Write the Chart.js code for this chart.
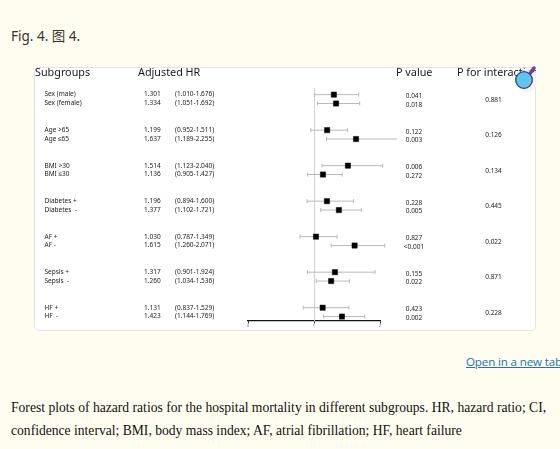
<!DOCTYPE html>
<html>
<head>
<meta charset="utf-8">
<script src="https://cdn.jsdelivr.net/npm/chart.js@4/dist/chart.umd.min.js"></script>
<style>
  html, body { margin:0; padding:0; }
  body { width:560px; height:449px; overflow:hidden; position:relative; background:#fffdf0; }
  #title { position:absolute; left:11px; top:25px; font:13.5px 'Noto Sans','Noto Sans CJK SC',sans-serif; color:#333; white-space:nowrap; }
  #box { position:absolute; left:34px; top:67px; width:502px; height:264px; box-sizing:border-box; background:#fff; border:1px solid #e2e2e2; border-radius:5px; }
  #wrap { position:absolute; left:34px; top:67px; width:502px; height:264px; }
  #icon { position:absolute; left:505px; top:60px; width:31px; height:32px; overflow:hidden; }
  #open { position:absolute; left:466px; top:354px; font:11.6px 'Open Sans',sans-serif; letter-spacing:-0.15px; color:#2271b5; text-decoration:underline; white-space:nowrap; }
  #caption { position:absolute; left:11px; top:396px; font:13.6px 'Liberation Serif',serif; line-height:23px; color:#111; white-space:nowrap; }
</style>
</head>
<body>
<div id="title">Fig. 4. 图 4.</div>
<div id="box"></div>
<div id="wrap"><canvas id="c"></canvas></div>
<svg id="icon" width="31" height="32" viewBox="0 0 31 32">
  <circle cx="22" cy="21" r="11" fill="#f3f3f3"/>
  <line x1="24" y1="15" x2="29" y2="8" stroke="#7b3f90" stroke-width="3.5" stroke-linecap="round"/>
  <circle cx="19" cy="20" r="8.3" fill="#5cc6ee" stroke="#46357f" stroke-width="1.3"/>
</svg>
<div id="open">Open in a new tab</div>
<div id="caption">Forest plots of hazard ratios for the hospital mortality in different subgroups. HR, hazard ratio; CI,<br>confidence interval; BMI, body mass index; AF, atrial fibrillation; HF, heart failure</div>

<script>
// ---- data ----
const subgroups = ['Sex (male)','Sex (female)','Age >65','Age \u226465','BMI >30','BMI \u226430','Diabetes +','Diabetes  -','AF +','AF -','Sepsis +','Sepsis  -','HF +','HF  -'];
const hr      = [1.301,1.334,1.199,1.637,1.514,1.136,1.196,1.377,1.030,1.615,1.317,1.260,1.131,1.423];
const ciLow   = [1.010,1.051,0.952,1.189,1.123,0.905,0.894,1.102,0.787,1.260,0.901,1.034,0.837,1.144];
const ciHigh  = [1.676,1.692,1.511,2.255,2.040,1.427,1.600,1.721,1.349,2.071,1.924,1.536,1.529,1.769];
const pValues = ['0.041','0.018','0.122','0.003','0.006','0.272','0.228','0.005','0.827','<0.001','0.155','0.022','0.423','0.002'];
const pInteraction = ['0.881','0.126','0.134','0.445','0.022','0.871','0.228'];
const headers = ['Subgroups','Adjusted HR','P value','P for interaction'];
const xTicks = [0,1,2];
const refValue = 1;

// ---- layout helpers ----
const rowY = i => Math.floor(i/2)*4 + (i%2);
const groupY = g => g*4 + 0.5;

const whiskers = subgroups.map((s,i) => ({
  type:'line',
  data:[{x:ciLow[i], y:rowY(i)}, {x:ciHigh[i], y:rowY(i)}],
  borderColor:'#b8b8b8', borderWidth:1,
  pointStyle:'line', rotation:90, pointRadius:2,
  pointBorderColor:'#b8b8b8', pointBorderWidth:1,
  clip:false, order:2
}));

const squares = {
  type:'scatter',
  data: subgroups.map((s,i) => ({x:hr[i], y:rowY(i)})),
  pointStyle:'rect', pointRadius:3.7,
  backgroundColor:'#000', borderColor:'#000', borderWidth:0.5,
  clip:false, order:0
};

const refLinePlugin = {
  id:'refLine',
  beforeDatasetsDraw(chart){
    const {ctx, scales:{x,y}, chartArea} = chart;
    const px = Math.round(x.getPixelForValue(refValue)) + 0.5;
    ctx.save();
    ctx.strokeStyle = '#d2d2d2';
    ctx.lineWidth = 1;
    ctx.beginPath();
    ctx.moveTo(px, y.getPixelForValue(-0.7));
    ctx.lineTo(px, chartArea.bottom);
    ctx.stroke();
    ctx.restore();
  }
};

const textPlugin = {
  id:'texts',
  afterDraw(chart){
    const {ctx, scales:{y}} = chart;
    ctx.save();
    ctx.textBaseline = 'middle';
    ctx.fillStyle = '#1a1a1a';
    ctx.font = "10.8px 'Noto Sans', sans-serif";
    ctx.textAlign = 'left';
    const hx = [1, 104, 362, 423];
    headers.forEach((h,k) => ctx.fillText(h, hx[k], 6));
    ctx.font = "6.5px 'Noto Sans', sans-serif";
    ctx.fillStyle = '#222';
    subgroups.forEach((s,i) => {
      const py = y.getPixelForValue(rowY(i));
      ctx.textAlign = 'left';
      ctx.fillText(s, 10.5, py);
      ctx.fillText(hr[i].toFixed(3), 110, py);
      ctx.fillText('(' + ciLow[i].toFixed(3) + '-' + ciHigh[i].toFixed(3) + ')', 141, py);
      ctx.textAlign = 'center';
      ctx.fillText(pValues[i], 380, py + 1.5);
    });
    pInteraction.forEach((p,g) => {
      ctx.textAlign = 'center';
      ctx.fillText(p, 459.5, y.getPixelForValue(groupY(g)) + 1);
    });
    ctx.restore();
  }
};

new Chart(document.getElementById('c'), {
  data:{ datasets:[squares, ...whiskers] },
  options:{
    responsive:true, maintainAspectRatio:false, animation:false,
    layout:{ padding:{ left:214, right:156, top:0, bottom:0 } },
    plugins:{ legend:{display:false}, tooltip:{enabled:false} },
    scales:{
      x:{
        type:'linear', min:0, max:2,
        afterBuildTicks(scale){ scale.ticks = xTicks.map(v => ({value:v})); },
        afterFit(scale){ scale.height = 10; },
        border:{ display:true, color:'#111', width:1.3 },
        grid:{ display:true, drawOnChartArea:false, drawTicks:true, tickLength:2.5, color:'#333', lineWidth:1 },
        ticks:{ font:{size:4, family:'Noto Sans'}, color:'#666', padding:0, maxRotation:0 }
      },
      y:{
        type:'linear', reverse:true, min:-2.55, max:25.5, display:false
      }
    }
  },
  plugins:[refLinePlugin, textPlugin]
});
</script>
</body>
</html>
